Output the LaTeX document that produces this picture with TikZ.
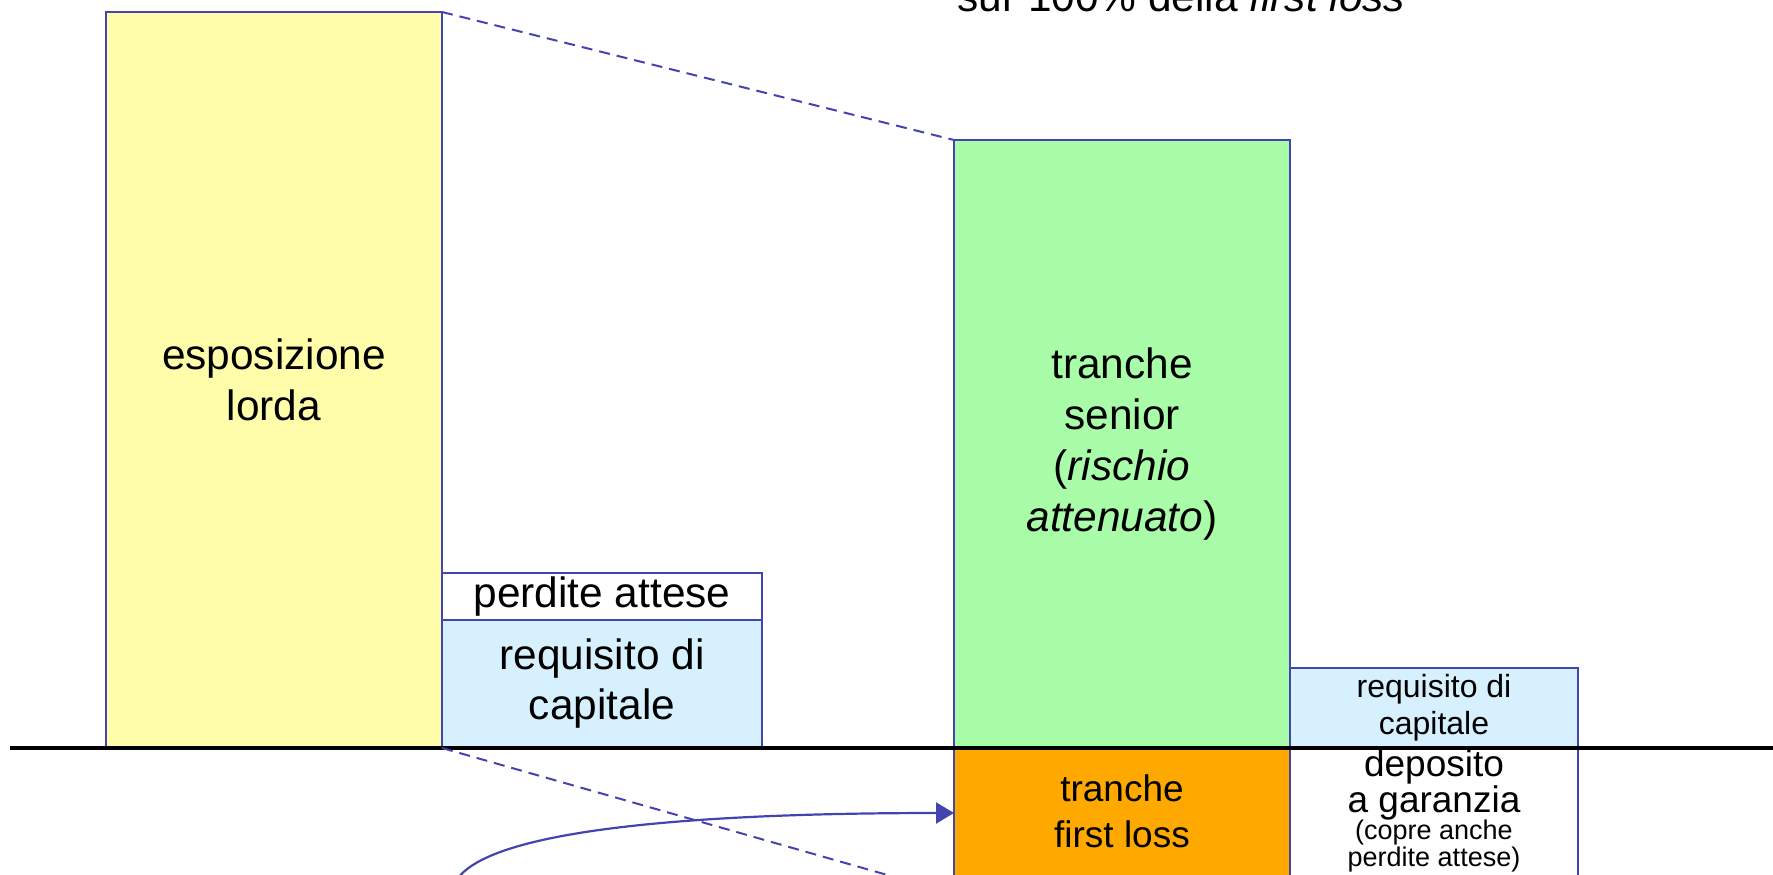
\documentclass[tikz,border=0pt]{standalone}
\usepackage{fontspec}
\setmainfont{Liberation Sans}
\usetikzlibrary{arrows.meta}
\definecolor{bxyellow}{RGB}{255,253,170}
\definecolor{bxgreen}{RGB}{170,253,168}
\definecolor{bxblue}{RGB}{214,240,254}
\definecolor{bxorange}{RGB}{255,168,0}
\definecolor{bxborder}{RGB}{68,68,176}
\tikzset{
  blk/.style={draw=bxborder, line width=1pt, inner sep=0pt, outer sep=0pt, align=center},
  bigtxt/.style={font=\fontsize{21.2}{25.2}\selectfont},
  dashln/.style={draw=bxborder, line width=1pt, dash pattern=on 5.5pt off 3.5pt},
  conn/.style={draw=bxborder, line width=1.1pt, -{Triangle[length=9pt,width=10.5pt]}}
}
\begin{document}
\begin{tikzpicture}[x=0.5pt,y=-0.5pt]
\useasboundingbox (0,0) rectangle (1773,874);
\clip (0,0) rectangle (1773,874);
% boxes
\node[blk, bigtxt, fill=bxyellow, minimum width=168pt, minimum height=368pt] (yellow) at (274,380) {esposizione\\lorda};
\node[blk, bigtxt, fill=white, minimum width=160pt, minimum height=23.5pt] (perdite) at (602,596.5) {perdite attese};
\node[blk, bigtxt, fill=bxblue, minimum width=160pt, minimum height=63.5pt] (reqL) at (602,683.5) {requisito di\\capitale};
\node[blk, font=\fontsize{21.2}{25.5}\selectfont, fill=bxgreen, minimum width=168pt, minimum height=304pt] (green) at (1122,444) {tranche\\senior\\(\textit{rischio}\\\textit{attenuato})};
\node[blk, font=\fontsize{16}{18.5}\selectfont, fill=bxblue, minimum width=144pt, minimum height=40pt] (reqR) at (1434,708) {requisito di\\capitale};
\node[blk, fill=bxorange, minimum width=168pt, minimum height=73pt] (orange) at (1122,821) {};
\node[blk, fill=white, minimum width=144pt, minimum height=73pt] (deposito) at (1434,821) {};
% texts in cut boxes
\node[align=center, inner sep=0pt, font=\fontsize{18.5}{23}\selectfont] (orangetxt) at (1122,811) {tranche\\first loss};
\node[align=center, inner sep=0pt, font=\fontsize{18.5}{18}\selectfont] (deptxt) at (1434,785) {deposito\\a garanzia};
\node[align=center, inner sep=0pt, font=\fontsize{13.5}{11}\selectfont] (deptxt2) at (1434,846) {(copre anche\\perdite attese)};
% top text
\node[anchor=base west, inner sep=0pt, font=\fontsize{21.2}{25}\selectfont] (toptxt) at (957,11) {sur 100\% della \textit{first loss}};
% base line
\coordinate (baseL) at (10,748);
\coordinate (baseR) at (1773,748);
\draw[line width=2pt, black] (baseL) -- (baseR);
% dashed lines
\draw[dashln] (yellow.north east) -- (green.north west);
\draw[dashln] (yellow.south east) -- (orange.south west);
% curved arrow
\coordinate (arrStart) at (452,895);
\coordinate (arrEnd) at (954,813);
\draw[conn] (arrStart) .. controls (452,830) and (690,813) .. (arrEnd);
\end{tikzpicture}
\end{document}
